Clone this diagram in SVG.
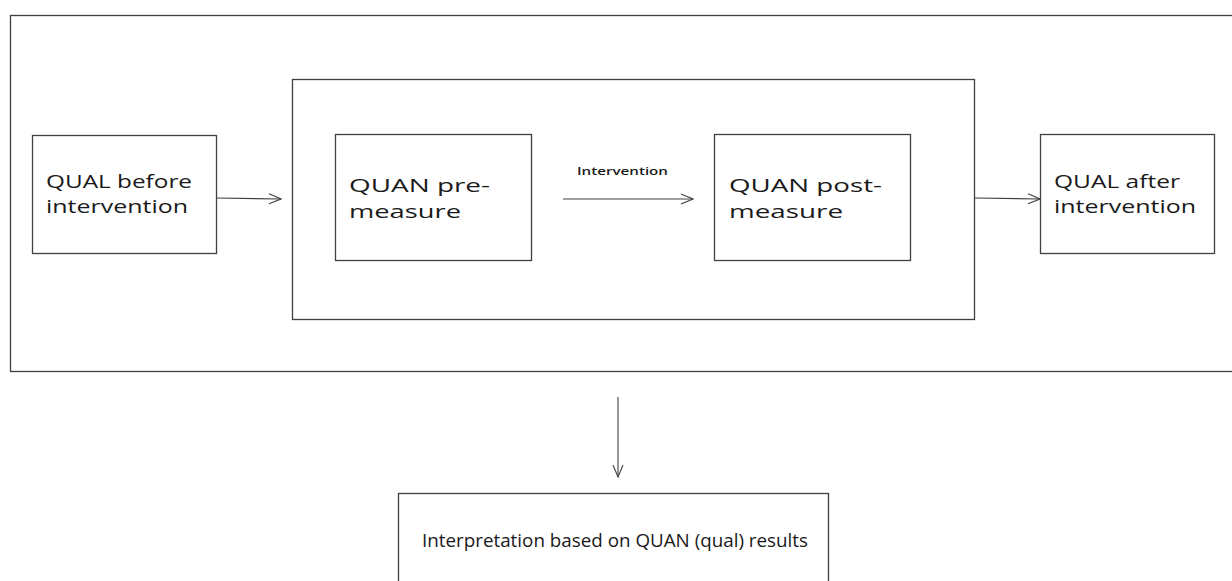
<svg xmlns="http://www.w3.org/2000/svg" width="1232" height="581" viewBox="0 0 1232 581">
<defs>
<style>
.box{fill:#fff;stroke:#404040;stroke-width:1.3}
.t{font-family:"Open Sans","Noto Sans",sans-serif;font-size:19px;fill:#1a1a1a}
.s{font-family:"Open Sans","Noto Sans",sans-serif;font-size:10.5px;font-weight:600;fill:#1a1a1a}
.c{fill:none;stroke:#404040;stroke-width:1.1}
</style>
<marker id="ah" viewBox="0 0 14 12" refX="13" refY="6" markerWidth="14" markerHeight="12" markerUnits="userSpaceOnUse" orient="auto">
<path d="M1,1 L13,6 L1,11" fill="none" stroke="#404040" stroke-width="1.1"/>
</marker>
</defs>
<rect width="1232" height="581" fill="#fff"/>
<g id="outer"><rect class="box" x="10.5" y="15.5" width="1240" height="356"/></g>
<g id="middle"><rect class="box" x="292.5" y="79.5" width="682" height="240"/></g>
<g id="qual-before"><rect class="box" x="32.5" y="135.5" width="184" height="118"/>
<text class="t" x="46" y="188" textLength="146" lengthAdjust="spacingAndGlyphs">QUAL before</text><text class="t" x="46" y="213" textLength="142" lengthAdjust="spacingAndGlyphs">intervention</text></g>
<g id="quan-pre"><rect class="box" x="335.5" y="134.5" width="196" height="126"/>
<text class="t" x="349" y="192" textLength="141" lengthAdjust="spacingAndGlyphs">QUAN pre-</text><text class="t" x="349" y="218" textLength="112" lengthAdjust="spacingAndGlyphs">measure</text></g>
<g id="quan-post"><rect class="box" x="714.5" y="134.5" width="196" height="126"/>
<text class="t" x="729" y="192" textLength="153" lengthAdjust="spacingAndGlyphs">QUAN post-</text><text class="t" x="729" y="218" textLength="114" lengthAdjust="spacingAndGlyphs">measure</text></g>
<g id="qual-after"><rect class="box" x="1040.5" y="134.5" width="174" height="119"/>
<text class="t" x="1054" y="188" textLength="126" lengthAdjust="spacingAndGlyphs">QUAL after</text><text class="t" x="1054" y="213" textLength="142" lengthAdjust="spacingAndGlyphs">intervention</text></g>
<g id="interpretation"><rect class="box" x="398.5" y="493.5" width="430" height="100"/>
<text class="t" x="422" y="547" textLength="386" lengthAdjust="spacingAndGlyphs">Interpretation based on QUAN (qual) results</text></g>
<g id="connectors">
<line class="c" x1="217" y1="198" x2="281" y2="199" marker-end="url(#ah)"/>
<line class="c" x1="563" y1="199" x2="693" y2="199" marker-end="url(#ah)"/>
<text class="s" x="577" y="175" textLength="91" lengthAdjust="spacingAndGlyphs">Intervention</text>
<line class="c" x1="975" y1="198" x2="1040" y2="199" marker-end="url(#ah)"/>
<line class="c" x1="618" y1="397" x2="618" y2="477" marker-end="url(#ah)"/>
</g>
</svg>
